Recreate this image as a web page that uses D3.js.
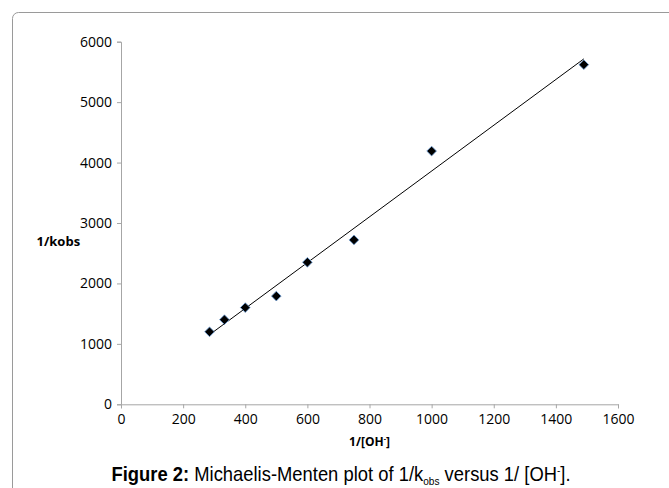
<!DOCTYPE html>
<html>
<head>
<meta charset="utf-8">
<script src="https://cdn.jsdelivr.net/npm/d3@7"></script>
<style>
  body { margin: 0; background: #fff; }
  svg { display: block; }
</style>
</head>
<body>
<svg id="chart"></svg>
<script>
// data
var invOH = [285, 333, 400, 500, 600, 750, 1000, 1490];
var invKobs = [1200, 1400, 1600, 1790, 2350, 2720, 4190, 5620];
var xTicks = [0, 200, 400, 600, 800, 1000, 1200, 1400, 1600];
var yTicks = [0, 1000, 2000, 3000, 4000, 5000, 6000];

var width = 669, height = 488;
var svg = d3.select('#chart')
    .attr('width', width)
    .attr('height', height);

// frame round the figure (runs off to the right and bottom)
svg.append('rect')
    .attr('x', 12.5).attr('y', 12.5)
    .attr('width', 670).attr('height', 500)
    .attr('rx', 6).attr('ry', 6)
    .attr('fill', 'none')
    .attr('stroke', '#9a9a9a')
    .attr('stroke-width', 1);

var x = d3.scaleLinear().domain([0, 1600]).range([121, 618]);
var y = d3.scaleLinear().domain([0, 6000]).range([404.3, 41.7]);

var xAxis = svg.append('g')
    .attr('transform', 'translate(0,' + y(0) + ')')
    .call(d3.axisBottom(x).tickValues(xTicks).tickSize(4).tickPadding(6).tickFormat(d3.format('d')));
var yAxis = svg.append('g')
    .attr('transform', 'translate(' + x(0) + ',0)')
    .call(d3.axisLeft(y).tickValues(yTicks).tickSize(4).tickPadding(5).tickFormat(d3.format('d')));

[xAxis, yAxis].forEach(function(g){
  g.selectAll('path, line').attr('stroke', '#a6a6a6');
  g.selectAll('text')
    .attr('fill', '#000')
    .style('font-family', '"Open Sans", sans-serif')
    .style('font-size', '14px');
});

// least squares trendline from the points
var mx = d3.mean(invOH), my = d3.mean(invKobs);
var sxy = d3.sum(invOH, function(v, i){ return (v - mx) * (invKobs[i] - my); });
var sxx = d3.sum(invOH, function(v){ return (v - mx) * (v - mx); });
var slope = sxy / sxx, icpt = my - slope * mx;
var ext = d3.extent(invOH);
svg.append('line')
    .attr('x1', x(ext[0])).attr('y1', y(icpt + slope * ext[0]))
    .attr('x2', x(ext[1])).attr('y2', y(icpt + slope * ext[1]))
    .attr('stroke', '#000')
    .attr('stroke-width', 1);

var diamond = d3.symbol().type(d3.symbolDiamond2).size(60);
svg.append('g').selectAll('path')
  .data(invOH)
  .join('path')
    .attr('d', diamond)
    .attr('transform', function(d, i){ return 'translate(' + x(d) + ',' + y(invKobs[i]) + ')'; })
    .attr('fill', '#000')
    .attr('stroke', '#6f9fd8')
    .attr('stroke-width', 0.8);

// axis titles
svg.append('text')
    .attr('x', 36.5).attr('y', 246)
    .style('font-family', '"Open Sans", sans-serif')
    .style('font-size', '13px')
    .style('font-weight', 'bold')
    .text('1/kobs');

var xt = svg.append('text')
    .attr('x', (x(0) + x(1600)) / 2).attr('y', 446)
    .attr('text-anchor', 'middle')
    .style('font-family', '"Open Sans", sans-serif')
    .style('font-size', '12px')
    .style('font-weight', 'bold');
xt.append('tspan').text('1/[OH');
xt.append('tspan').attr('dy', -5).style('font-size', '7px').text('-');
xt.append('tspan').attr('dy', 5).text(']');

// caption, squeezed to look like a narrow face
var cap = svg.append('text')
    .attr('transform', 'translate(111.5,481) scale(0.92,1)')
    .style('font-family', '"Liberation Sans", Arial, sans-serif')
    .style('font-size', '20px');
cap.append('tspan').style('font-weight', 'bold').text('Figure 2:');
cap.append('tspan').text(' Michaelis-Menten plot of 1/k');
cap.append('tspan').attr('dy', 3.5).style('font-size', '11px').text('obs');
cap.append('tspan').attr('dy', -3.5).text(' versus 1/ [OH');
cap.append('tspan').attr('dy', -7).style('font-size', '11px').text('-');
cap.append('tspan').attr('dy', 7).text('].');
</script>
</body>
</html>
